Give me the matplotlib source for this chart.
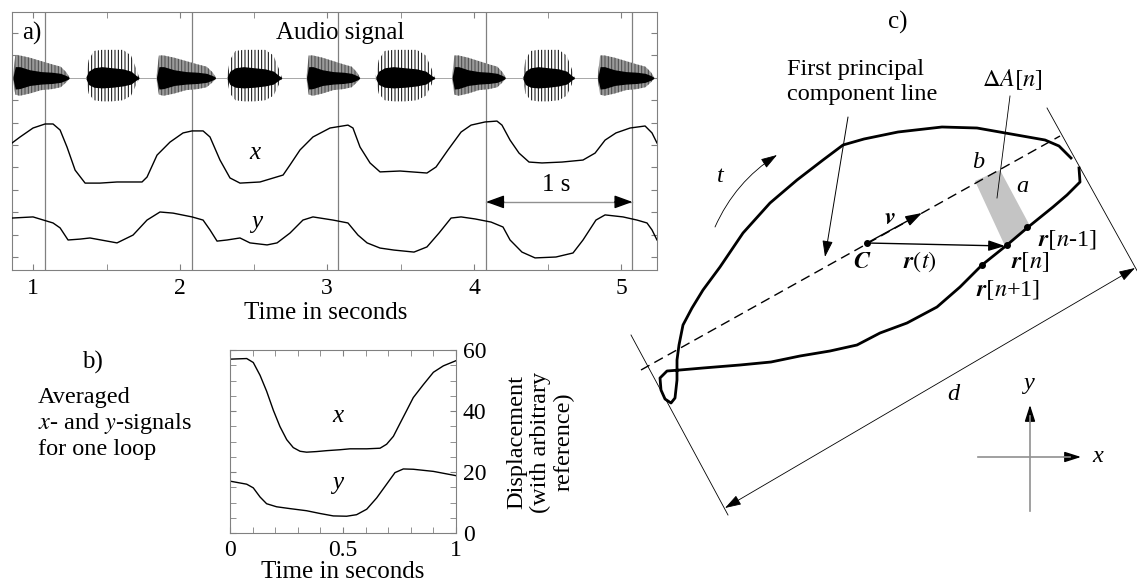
import numpy as np
import matplotlib.pyplot as plt
from matplotlib.patches import FancyArrowPatch, Polygon

plt.rcParams['font.family'] = ['Liberation Serif', 'DejaVu Serif']
plt.rcParams['mathtext.fontset'] = 'stix'
plt.rcParams['hatch.linewidth'] = 0.7

# ---------------- a) audio + x/y traces ----------------
sync_lines = [1.08, 2.08, 3.075, 4.08, 5.075]

xa_t = [0.857, 0.912, 1.0, 1.082, 1.136, 1.184, 1.231, 1.286, 1.354, 1.455, 1.571, 1.741, 1.775,
        1.843, 1.931, 2.020, 2.081, 2.156, 2.203, 2.271, 2.339, 2.407, 2.543, 2.700, 2.747, 2.815,
        2.903, 3.019, 3.141, 3.175, 3.223, 3.291, 3.359, 3.495, 3.678, 3.740, 3.821, 3.910, 3.978,
        4.073, 4.154, 4.188, 4.243, 4.304, 4.372, 4.460, 4.596, 4.739, 4.821, 4.889, 4.963, 5.059,
        5.161, 5.208, 5.242]
xa_v = [5.67, 5.94, 6.34, 6.52, 6.52, 6.25, 5.49, 4.46, 3.88, 3.88, 3.93, 3.93, 4.15,
        5.13, 5.71, 6.12, 6.21, 6.21, 5.94, 4.91, 4.11, 3.88, 3.93, 4.24, 4.69, 5.36,
        5.94, 6.34, 6.47, 6.34, 5.49, 4.78, 4.38, 4.42, 4.33, 4.60, 5.36, 6.16, 6.47,
        6.61, 6.65, 6.47, 5.80, 5.22, 4.82, 4.78, 4.82, 4.91, 5.22, 5.80, 6.12, 6.34,
        6.43, 6.12, 5.67]

ya_t = [0.857, 1.0, 1.136, 1.184, 1.238, 1.320, 1.387, 1.571, 1.680, 1.775, 1.863, 1.952, 2.081,
        2.156, 2.203, 2.251, 2.319, 2.407, 2.475, 2.591, 2.659, 2.747, 2.835, 2.903, 3.039, 3.141,
        3.209, 3.271, 3.359, 3.454, 3.590, 3.678, 3.760, 3.842, 3.910, 4.005, 4.114, 4.195, 4.243,
        4.324, 4.413, 4.555, 4.671, 4.739, 4.827, 4.889, 5.011, 5.106, 5.174, 5.208, 5.242]
ya_v = [2.32, 2.37, 2.10, 1.88, 1.34, 1.38, 1.43, 1.21, 1.56, 2.23, 2.59, 2.54, 2.37,
        2.23, 1.79, 1.29, 1.34, 1.43, 1.21, 1.12, 1.21, 1.65, 2.23, 2.37, 2.23, 2.10,
        1.56, 1.21, 0.98, 0.89, 0.80, 1.03, 1.65, 2.32, 2.37, 2.28, 2.14, 1.92, 1.34,
        0.80, 0.54, 0.58, 0.76, 1.34, 2.23, 2.46, 2.37, 2.23, 2.10, 1.79, 1.34]

audio_mid = 8.58
burst_start = [0.864, 1.36, 1.84, 2.32, 2.86, 3.33, 3.85, 4.33, 4.84]
burst_end = [1.245, 1.72, 2.24, 2.69, 3.22, 3.73, 4.21, 4.68, 5.22]

# envelopes (fraction of burst length -> amplitude)
taper_pos = [0, 0.04, 0.12, 0.3, 0.5, 0.7, 0.85, 0.95, 1.0]
taper_up = [0.1, 1.0, 1.0, 0.9, 0.75, 0.6, 0.5, 0.25, 0.05]
taper_lo = [0.1, 0.75, 0.8, 0.7, 0.55, 0.5, 0.42, 0.2, 0.05]
taper_core_up = [0.05, 0.5, 0.5, 0.36, 0.28, 0.25, 0.2, 0.1, 0.03]
taper_core_lo = [0.05, 0.5, 0.48, 0.34, 0.28, 0.25, 0.2, 0.1, 0.03]

spiky_pos = [0, 0.05, 0.15, 0.3, 0.5, 0.7, 0.85, 0.95, 1.0]
spiky_up = [0.1, 0.8, 1.2, 1.25, 1.25, 1.25, 1.0, 0.4, 0.05]
spiky_lo = [0.1, 0.7, 1.0, 1.05, 1.05, 1.0, 0.8, 0.3, 0.05]
spiky_core_up = [0.05, 0.3, 0.45, 0.5, 0.45, 0.4, 0.3, 0.1, 0.03]
spiky_core_lo = [0.05, 0.3, 0.42, 0.45, 0.42, 0.36, 0.28, 0.1, 0.03]

# ---------------- b) averaged loop ----------------
bx_t = [0.0, 0.074, 0.103, 0.133, 0.162, 0.192, 0.221, 0.251, 0.280, 0.310, 0.339, 0.383, 0.428,
        0.487, 0.531, 0.605, 0.664, 0.693, 0.723, 0.752, 0.782, 0.811, 0.855, 0.900, 0.944, 1.0]
bx_v = [57.0, 57.2, 55.9, 51.7, 46.5, 40.2, 34.9, 30.6, 28.0, 26.8, 26.5, 26.7, 27.0,
        27.3, 27.6, 27.6, 27.8, 29.1, 31.7, 35.9, 40.2, 44.4, 48.6, 52.7, 54.8, 56.5]
by_t = [0.0, 0.074, 0.103, 0.133, 0.162, 0.206, 0.265, 0.339, 0.398, 0.457, 0.516, 0.560, 0.605,
        0.649, 0.693, 0.730, 0.767, 0.811, 0.900, 1.0]
by_v = [17.0, 16.0, 14.8, 11.8, 9.6, 8.6, 8.0, 7.3, 6.4, 5.6, 5.5, 6.0, 7.8,
        11.5, 16.0, 19.8, 21.0, 20.9, 20.2, 18.8]

# ---------------- c) loop diagram (drawing units = pixels) ----------------
loop_x = [1079, 1080, 1067, 1053, 1027, 1007, 982, 960, 937, 907, 880, 857, 830, 800, 771, 740,
          703, 680, 667, 660, 661, 665, 671, 675, 677, 677, 679, 683, 692, 703, 720, 743, 770,
          797, 823, 843, 864, 898, 942, 977, 1011, 1045, 1059, 1071]
loop_y = [168, 182, 195, 207, 228, 245, 265, 287, 307, 323, 333, 345, 351, 356, 362, 365,
          368, 370, 371, 378, 390, 399, 403, 398, 380, 360, 345, 325, 308, 290, 267, 233, 203,
          180, 160, 145, 139, 132, 127, 128, 134, 140, 146, 158]
pc_x = [641, 1060]
pc_y = [370, 136]
dA_x = [975, 1000, 1030, 1005]
dA_y = [181, 170, 226, 246]
pt_names = ['C', 'r[n-1]', 'r[n]', 'r[n+1]']
pt_x = [867, 1027, 1007, 982]
pt_y = [243, 227, 245, 265]

fig = plt.figure(figsize=(11.37, 5.85), dpi=100)
W, H = 1137, 585
GRAY = '#808080'
HEAD = '-|>,head_length=0.5,head_width=0.16'

# ---- panel a
ax = fig.add_axes([12 / W, 1 - 270 / H, 645 / W, 258 / H])
ax.set_xlim(0.857, 5.242)
ax.set_ylim(0, 11.52)
for t in sync_lines:
    ax.axvline(t, color=GRAY, lw=0.9, zorder=1)
ax.axhline(audio_mid, color='#999999', lw=0.6, zorder=1)
for i, (t0, t1) in enumerate(zip(burst_start, burst_end)):
    if i % 2 == 0:
        tt = t0 + np.array(taper_pos) * (t1 - t0)
        ax.fill_between(tt, audio_mid - np.array(taper_lo), audio_mid + np.array(taper_up),
                        facecolor='#9a9a9a', edgecolor='#4a4a4a', hatch='|||||', lw=0, zorder=2)
        ax.fill_between(tt, audio_mid - np.array(taper_core_lo), audio_mid + np.array(taper_core_up),
                        color='black', lw=0, zorder=3)
    else:
        tt = t0 + np.array(spiky_pos) * (t1 - t0)
        ax.fill_between(tt, audio_mid - np.array(spiky_lo), audio_mid + np.array(spiky_up),
                        facecolor='white', edgecolor='black', hatch='|||||', lw=0, zorder=2)
        ax.fill_between(tt, audio_mid - np.array(spiky_core_lo), audio_mid + np.array(spiky_core_up),
                        color='black', lw=0, zorder=3)
ax.plot(xa_t, xa_v, color='black', lw=1.0, zorder=4)
ax.plot(ya_t, ya_v, color='black', lw=1.0, zorder=4)
ax.text(2.509, 5.22, 'x', fontsize=18, style='italic', ha='center', va='center')
ax.text(2.523, 2.14, 'y', fontsize=18, style='italic', ha='center', va='center')
ax.plot([4.08, 5.075], [3.04, 3.04], color='#909090', lw=1.0)
for a0, a1 in [(4.2, 4.08), (4.955, 5.075)]:
    ax.annotate('', xy=(a1, 3.04), xytext=(a0, 3.04),
                arrowprops=dict(arrowstyle='-|>,head_length=0.55,head_width=0.2', color='black',
                                lw=1.0, shrinkA=0, shrinkB=0, mutation_scale=20))
ax.text(4.555, 3.79, '1 s', fontsize=18, ha='center', va='center')
ax.set_xticks([1, 2, 3, 4, 5])
ax.set_xticks(np.arange(1.0, 5.3, 0.5), minor=True)
ax.set_yticks(np.arange(0.58, 11.0, 1.0))
ax.set_yticklabels([])
ax.tick_params(which='both', direction='in', top=True, right=True, color=GRAY, length=4,
               labelsize=17, pad=6)
for s in ax.spines.values():
    s.set_color(GRAY)
ax.set_xlabel('Time in seconds', fontsize=18)
ax.xaxis.set_label_coords(0.487, -0.125)

# ---- panel b
bx = fig.add_axes([230 / W, 1 - 533 / H, 226 / W, 183 / H])
bx.plot(bx_t, bx_v, color='black', lw=1.0)
bx.plot(by_t, by_v, color='black', lw=1.0)
bx.set_xlim(0, 1)
bx.set_ylim(0, 60)
bx.set_xticks([0, 0.5, 1])
bx.set_xticklabels(['0', '0.5', '1'])
bx.set_xticks(np.arange(0, 1.01, 0.1), minor=True)
bx.set_yticks([0, 20, 40, 60])
bx.set_yticks(np.arange(0, 61, 5), minor=True)
bx.tick_params(which='both', direction='in', top=True, right=True, left=True,
               labelleft=False, labelright=True, color=GRAY, length=4, labelsize=17, pad=5)
for s in bx.spines.values():
    s.set_color(GRAY)
bx.text(0.478, 38.5, 'x', fontsize=18, style='italic', ha='center', va='center')
bx.text(0.478, 16.5, 'y', fontsize=18, style='italic', ha='center', va='center')
bx.set_xlabel('Time in seconds', fontsize=18, labelpad=0)

# ---- overlay for panel c and free text
cx = fig.add_axes([0, 0, 1, 1])
cx.set_xlim(0, W)
cx.set_ylim(H, 0)
cx.axis('off')


def arrow(p0, p1, style=HEAD, lw=1.0, color='black', conn='arc3'):
    cx.add_patch(FancyArrowPatch(p0, p1, arrowstyle=style, mutation_scale=20, lw=lw, color=color,
                                 shrinkA=0, shrinkB=0, connectionstyle=conn))


FS = 17.5
cx.text(32, 33, 'a)', fontsize=18, ha='center', va='center')
cx.text(340, 33, 'Audio signal', fontsize=18, ha='center', va='center')

cx.text(92, 362, 'b)', fontsize=18, ha='center', va='center')
cx.text(38, 397, 'Averaged', fontsize=FS, ha='left', va='center')
cx.text(38, 424, r'$x$- and $y$-signals', fontsize=FS, ha='left', va='center')
cx.text(38, 450, 'for one loop', fontsize=FS, ha='left', va='center')
cx.text(540, 442, 'Displacement\n(with arbitrary\nreference)', fontsize=FS, rotation=90,
        ha='center', va='center', multialignment='center', linespacing=1.15)

cx.add_patch(Polygon(list(zip(dA_x, dA_y)), closed=True, facecolor='#c4c4c4', edgecolor='none',
                     hatch='......', zorder=1))
cx.plot(pc_x, pc_y, color='black', lw=1.0, dashes=(7, 4))
cx.plot(loop_x, loop_y, color='black', lw=2.0, solid_joinstyle='round')
cx.plot(pt_x, pt_y, 'o', color='black', ms=4)

# tangent lines and span
cx.plot([1047, 1140], [108, 276], color='black', lw=0.6)
cx.plot([631, 728], [335, 515], color='black', lw=0.6)
arrow((725, 508), (1135, 268), style='<|-|>,head_length=0.5,head_width=0.16', lw=0.6)

arrow((867, 243), (922, 213))
arrow((867, 243), (1005, 246))
arrow((848, 117), (825, 257), lw=0.7)
cx.plot([1010, 997], [96, 198], color='black', lw=0.6)
arrow((715, 227), (777, 155), lw=0.6, conn='arc3,rad=-0.15')

# coordinate cross: gray shafts, black heads
cx.plot([978, 1070], [457, 457], color='#909090', lw=1.2)
cx.plot([1030, 1030], [511, 416], color='#909090', lw=1.2)
arrow((1064, 457), (1081, 457))
arrow((1030, 422), (1030, 405))

cx.text(898, 22, 'c)', fontsize=18, ha='center', va='center')
cx.text(787, 82, 'First principal\ncomponent line', fontsize=FS, ha='left', va='center',
        linespacing=1.2)
cx.text(1012, 80, r'$\Delta A[n]$', fontsize=FS, ha='center', va='center')
cx.text(978, 162, 'b', fontsize=FS, style='italic', ha='center', va='center')
cx.text(1022, 187, 'a', fontsize=FS, style='italic', ha='center', va='center')
cx.text(720, 177, 't', fontsize=FS, style='italic', ha='center', va='center')
cx.text(890, 218, r'$\mathbfit{v}$', fontsize=FS, ha='center', va='center')
cx.text(862, 263, r'$\mathbfit{C}$', fontsize=FS, ha='center', va='center')
cx.text(920, 262, r'$\mathbfit{r}(t)$', fontsize=FS, ha='center', va='center')
cx.text(1067, 240, r'$\mathbfit{r}[n$-1]', fontsize=FS, ha='center', va='center')
cx.text(1030, 262, r'$\mathbfit{r}[n]$', fontsize=FS, ha='center', va='center')
cx.text(1008, 290, r'$\mathbfit{r}[n$+1]', fontsize=FS, ha='center', va='center')
cx.text(953, 395, 'd', fontsize=FS, style='italic', ha='center', va='center')
cx.text(1098, 457, 'x', fontsize=FS, style='italic', ha='center', va='center')
cx.text(1028, 383, 'y', fontsize=FS, style='italic', ha='center', va='center')

fig.savefig('out.png', dpi=100)
